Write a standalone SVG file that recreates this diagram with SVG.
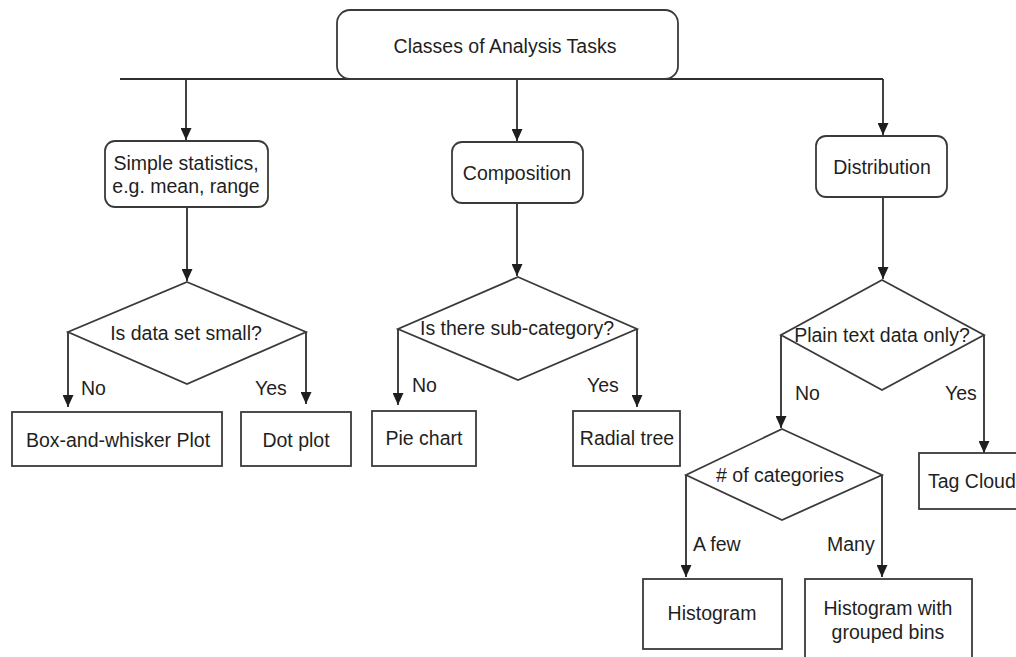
<svg xmlns="http://www.w3.org/2000/svg" width="1016" height="657" viewBox="0 0 1016 657">
  <style>
    .box { fill: #fff; stroke: #3a3a3a; stroke-width: 1.8; }
    .edge { fill: none; stroke: #2e2e2e; stroke-width: 1.8; }
    text { font-family: "Liberation Sans", Arial, sans-serif; font-size: 19.5px; fill: #1f1f1f; }
    .c { text-anchor: middle; }
  </style>
  <defs>
    <marker id="arrow" markerUnits="userSpaceOnUse" markerWidth="12" markerHeight="11" refX="12" refY="5.5" orient="auto">
      <path d="M0,0 L12,5.5 L0,11 z" fill="#1e1e1e"/>
    </marker>
  </defs>
  <rect width="1016" height="657" fill="#fff"/>

  <!-- connectors -->
  <g id="connectors">
    <path class="edge" d="M120,79 H883"/>
    <path class="edge" d="M186,79 V140" marker-end="url(#arrow)"/>
    <path class="edge" d="M517,79 V141" marker-end="url(#arrow)"/>
    <path class="edge" d="M883,79 V135" marker-end="url(#arrow)"/>

    <path class="edge" d="M187,207 V281" marker-end="url(#arrow)"/>
    <path class="edge" d="M517,203 V276" marker-end="url(#arrow)"/>
    <path class="edge" d="M883,197 V279" marker-end="url(#arrow)"/>

    <path class="edge" d="M68,332 V407" marker-end="url(#arrow)"/>
    <path class="edge" d="M306,332 V404" marker-end="url(#arrow)"/>
    <path class="edge" d="M398,329 V405" marker-end="url(#arrow)"/>
    <path class="edge" d="M637,329 V407" marker-end="url(#arrow)"/>
    <path class="edge" d="M781,335 V428" marker-end="url(#arrow)"/>
    <path class="edge" d="M984,335 V453" marker-end="url(#arrow)"/>
    <path class="edge" d="M686,475 V577" marker-end="url(#arrow)"/>
    <path class="edge" d="M882,475 V577" marker-end="url(#arrow)"/>

    <text x="81" y="395">No</text>
    <text x="255" y="395">Yes</text>
    <text x="412" y="392">No</text>
    <text x="587" y="392">Yes</text>
    <text x="795" y="400">No</text>
    <text x="945" y="400">Yes</text>
    <text x="693" y="551">A few</text>
    <text x="827" y="551">Many</text>
  </g>

  <g id="root">
    <rect class="box" x="337" y="10" width="341" height="69" rx="13"/>
    <text class="c" x="505" y="53">Classes of Analysis Tasks</text>
  </g>

  <g id="simple-statistics">
    <rect class="box" x="105" y="141" width="163" height="66" rx="10"/>
    <text class="c" x="186" y="170">Simple statistics,</text>
    <text class="c" x="186" y="193">e.g. mean, range</text>
  </g>

  <g id="composition">
    <rect class="box" x="452" y="142" width="131" height="61" rx="10"/>
    <text class="c" x="517" y="180">Composition</text>
  </g>

  <g id="distribution">
    <rect class="box" x="816" y="136" width="131" height="61" rx="10"/>
    <text class="c" x="882" y="174">Distribution</text>
  </g>

  <g id="is-data-set-small">
    <polygon class="box" points="187,282 306,332 187,384 68,332"/>
    <text class="c" x="186" y="340">Is data set small?</text>
  </g>

  <g id="is-there-sub-category">
    <polygon class="box" points="518,277 637,329 518,380 398,329"/>
    <text class="c" x="517" y="335">Is there sub-category?</text>
  </g>

  <g id="plain-text-data-only">
    <polygon class="box" points="882,280 984,335 882,390 781,335"/>
    <text class="c" x="882" y="342">Plain text data only?</text>
  </g>

  <g id="number-of-categories">
    <polygon class="box" points="782,429 882,475 782,520 686,475"/>
    <text class="c" x="780" y="482"># of categories</text>
  </g>

  <g id="box-and-whisker">
    <rect class="box" x="12" y="412" width="210" height="54"/>
    <text class="c" x="118" y="447">Box-and-whisker Plot</text>
  </g>

  <g id="dot-plot">
    <rect class="box" x="241" y="412" width="110" height="54"/>
    <text class="c" x="296" y="447">Dot plot</text>
  </g>

  <g id="pie-chart">
    <rect class="box" x="372" y="411" width="104" height="55"/>
    <text class="c" x="424" y="445">Pie chart</text>
  </g>

  <g id="radial-tree">
    <rect class="box" x="573" y="411" width="107" height="55"/>
    <text class="c" x="627" y="445">Radial tree</text>
  </g>

  <g id="tag-cloud">
    <rect class="box" x="919" y="453" width="110" height="56"/>
    <text x="928" y="488">Tag Cloud</text>
  </g>

  <g id="histogram">
    <rect class="box" x="643" y="579" width="139" height="70"/>
    <text class="c" x="712" y="620">Histogram</text>
  </g>

  <g id="histogram-grouped">
    <rect class="box" x="805" y="579" width="167" height="90"/>
    <text class="c" x="888" y="615">Histogram with</text>
    <text class="c" x="888" y="639">grouped bins</text>
  </g>
</svg>
